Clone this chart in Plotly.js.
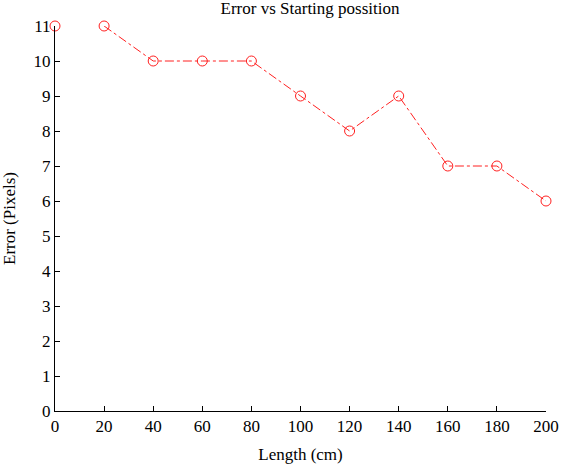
<!DOCTYPE html>
<html>
<head>
<meta charset="utf-8">
<script src="https://cdn.plot.ly/plotly-3.0.1.min.js"></script>
<style>html,body{margin:0;padding:0;background:#fff;}#chart{width:573px;height:470px;}</style>
</head>
<body>
<div id="chart"></div>
<script>
// Data
var lengths = [0, null, 20, 40, 60, 80, 100, 120, 140, 160, 180, 200];
var errors  = [11, null, 11, 10, 10, 10, 9, 8, 9, 7, 7, 6];
var xTicks = [0, 20, 40, 60, 80, 100, 120, 140, 160, 180, 200];
var yTicks = [0, 1, 2, 3, 4, 5, 6, 7, 8, 9, 10, 11];

var font = 'Liberation Serif, Times New Roman, serif';

var trace = {
  x: lengths, y: errors,
  type: 'scatter', mode: 'lines+markers',
  connectgaps: false,
  cliponaxis: false,
  line: {color: '#ff2020', width: 1, dash: 'dashdot'},
  marker: {symbol: 'circle-open', size: 10, color: '#ff2020', line: {width: 1, color: '#ff2020'}}
};

var layout = {
  width: 573, height: 470,
  margin: {l: 55, r: 27, t: 26, b: 59},
  paper_bgcolor: '#fff', plot_bgcolor: '#fff',
  showlegend: false,
  font: {family: font, size: 17, color: '#000'},
  title: {text: 'Error vs Starting possition', font: {family: font, size: 17, color: '#000'},
          x: 310/573, xanchor: 'center', xref: 'container', y: 1 - 8/470, yref: 'container', yanchor: 'middle'},
  xaxis: {
    range: [0, 200], tickvals: xTicks, ticktext: xTicks.map(String),
    showgrid: false, zeroline: false, showline: true, linecolor: '#000', linewidth: 1,
    ticks: 'inside', ticklen: 5, tickcolor: '#000',
    tickfont: {family: font, size: 17, color: '#000'},
    title: {text: 'Length (cm)', font: {family: font, size: 17, color: '#000'}, standoff: 12}
  },
  yaxis: {
    range: [0, 11], tickvals: yTicks, ticktext: yTicks.map(String),
    showgrid: false, zeroline: false, showline: true, linecolor: '#000', linewidth: 1,
    ticks: 'inside', ticklen: 5, tickcolor: '#000',
    tickfont: {family: font, size: 17, color: '#000'},
    title: {text: 'Error (Pixels)', font: {family: font, size: 17, color: '#000'}, standoff: 14}
  }
};

Plotly.newPlot('chart', [trace], layout, {displayModeBar: false, staticPlot: true});
</script>
</body>
</html>
